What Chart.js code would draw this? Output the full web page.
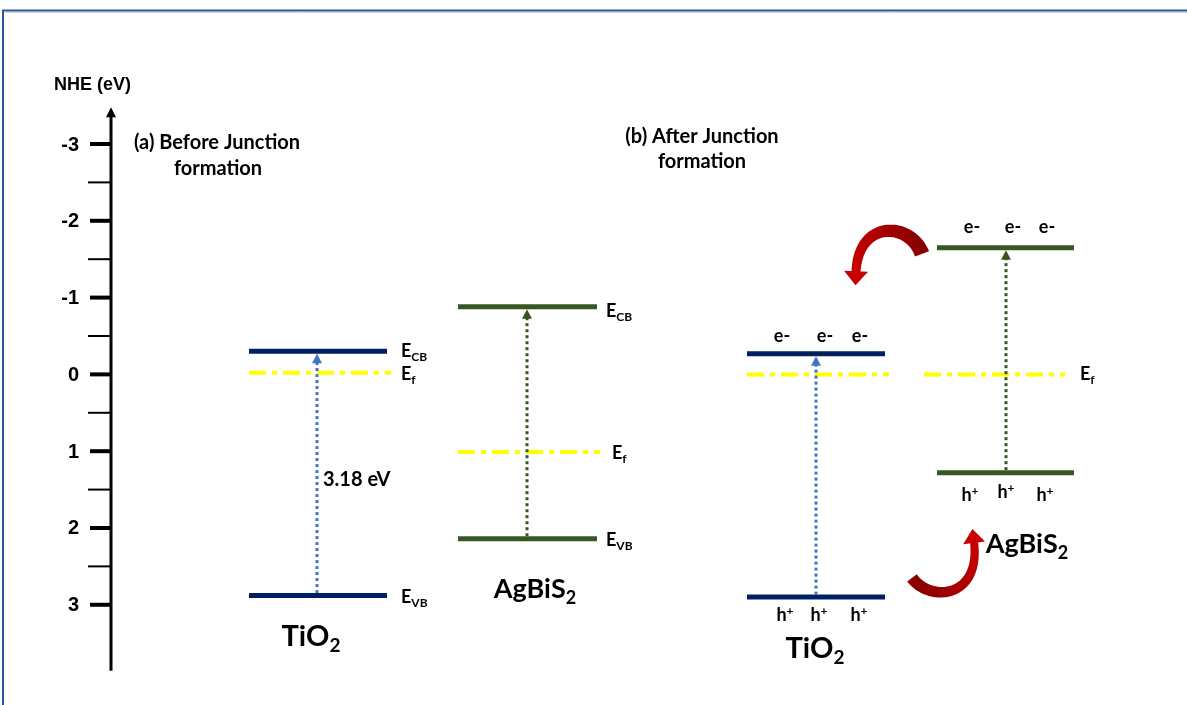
<!DOCTYPE html>
<html>
<head>
<meta charset="utf-8">
<title>TiO2 / AgBiS2 band alignment</title>
<script src="https://cdn.jsdelivr.net/npm/chart.js@4.4.1/dist/chart.umd.min.js"></script>
<style>
  html, body { margin: 0; padding: 0; background: #ffffff; }
  canvas { display: block; }
</style>
</head>
<body>
<canvas id="bands" width="1187" height="705"></canvas>
<script>
// ---- Energy levels, eV vs NHE (index 0 = TiO2, index 1 = AgBiS2) ----
const materials = ['TiO2', 'AgBiS2'];
const cbBefore = [-0.30, -0.88];
const vbBefore = [2.88, 2.14];
const efBefore = [-0.02, 1.01];
const cbAfter  = [-0.27, -1.65];
const vbAfter  = [2.90, 1.28];
const efAfter  = [0.00, 0.00];
const gapLabel = '3.18 eV';

// ---- Axis ----
const axisTitle  = 'NHE (eV)';
const majorTicks = [-3, -2, -1, 0, 1, 2, 3];
const minorTicks = [-2.5, -1.5, -0.5, 0.5, 1.5, 2.5];
const panelTitles = [['(a) Before Junction', 'formation'], ['(b) After Junction', 'formation']];
const carrierE = 'e-';
const carrierH = 'h';

// ---- Layout (horizontal placement of each column, in diagram units) ----
const COLS = [
  [ // (a) before contact
    { band: [249, 387], ef: [249, 391], arrow: 317, tag: 401, efTag: 401, name: 311, nameDy: 50, nameSize: 29 },
    { band: [458, 597], ef: [458, 600], arrow: 527, tag: 606, efTag: 612, name: 535, nameDy: 59, nameSize: 27 }
  ],
  [ // (b) after contact
    { band: [747, 885], ef: [747, 889], arrow: 816, name: 815, nameDy: 61, nameSize: 29,
      eX: [782, 825, 860], eDy: -17, hX: [787, 821, 861], hDy: 18 },
    { band: [937, 1074], ef: [924, 1065], arrow: 1006, efTag: 1080, name: 1027, nameDy: 80, nameSize: 27,
      eX: [972, 1013, 1047], eDy: -20, hX: [972, 1008, 1047], hDy: 22 }
  ]
];
const AXIS = { x: 111, top: -3.48, bottom: 3.86, majorFrom: 90, minorFrom: 88, labelRight: 79 };

// Charge-transfer arrows (control points, diagram x / eV)
const TRANSFER = [
  { pts: [{x: 922, y: -1.57}, {x: 910, y: -1.99}, {x: 858, y: -2.02}, {x: 856, y: -1.33}],
    w0: 15, w1: 9, head: 13, headW: 24, c0: '#8a0000', c1: '#c80000' },
  { pts: [{x: 912, y: 2.65}, {x: 930, y: 2.97}, {x: 981, y: 2.92}, {x: 974, y: 2.18}],
    w0: 12, w1: 8, head: 13, headW: 22, c0: '#8a0000', c1: '#c80000' }
];

const NAVY = '#002060';
const GREEN = '#385723';
const BAND_COLORS = [NAVY, GREEN];
const ARROW_COLORS = ['#4472c4', '#375623'];
const FERMI = '#ffff00';
const TEXT = '#000000';
const FONT = 'Lato';

// ---- Datasets: band edges and Fermi levels ----
function hLine(xs, v, color, width, dash, order) {
  return {
    data: [{x: xs[0], y: v}, {x: xs[1], y: v}],
    showLine: true, pointRadius: 0, pointHoverRadius: 0,
    borderColor: color, borderWidth: width, borderDash: dash,
    borderCapStyle: 'butt', fill: false, order: order
  };
}

const levels = [
  { cb: cbBefore, vb: vbBefore, ef: efBefore },
  { cb: cbAfter,  vb: vbAfter,  ef: efAfter }
];

const datasets = [];
levels.forEach((lv, p) => {
  materials.forEach((m, i) => {
    const c = COLS[p][i];
    datasets.push(hLine(c.band, lv.cb[i], BAND_COLORS[i], 5, [], 1));
    datasets.push(hLine(c.band, lv.vb[i], BAND_COLORS[i], 5, [], 1));
    datasets.push(hLine(c.ef, lv.ef[i], FERMI, 4, [17, 6, 5, 6], 2));
  });
});

// ---- Drawing helpers ----
function rich(ctx, x, y, parts, align) {
  let w = 0;
  parts.forEach(p => { ctx.font = p.font; p.w = ctx.measureText(p.t).width; w += p.w; });
  let cx = align === 'center' ? x - w / 2 : (align === 'right' ? x - w : x);
  ctx.textAlign = 'left';
  ctx.textBaseline = 'alphabetic';
  parts.forEach(p => { ctx.font = p.font; ctx.fillText(p.t, cx, y + (p.dy || 0)); cx += p.w; });
}

function bez(p, t) {
  const u = 1 - t;
  return {
    x: u*u*u*p[0].x + 3*u*u*t*p[1].x + 3*u*t*t*p[2].x + t*t*t*p[3].x,
    y: u*u*u*p[0].y + 3*u*u*t*p[1].y + 3*u*t*t*p[2].y + t*t*t*p[3].y
  };
}
function bezD(p, t) {
  const u = 1 - t;
  return {
    x: 3*u*u*(p[1].x-p[0].x) + 6*u*t*(p[2].x-p[1].x) + 3*t*t*(p[3].x-p[2].x),
    y: 3*u*u*(p[1].y-p[0].y) + 6*u*t*(p[2].y-p[1].y) + 3*t*t*(p[3].y-p[2].y)
  };
}

function curvedArrow(ctx, P, a) {
  const N = 60, L = [], R = [];
  for (let i = 0; i <= N; i++) {
    const t = i / N, q = bez(P, t), d = bezD(P, t);
    const len = Math.hypot(d.x, d.y) || 1;
    const nx = -d.y / len, ny = d.x / len;
    const hw = (a.w0 + (a.w1 - a.w0) * t) / 2;
    L.push({x: q.x + nx * hw, y: q.y + ny * hw});
    R.push({x: q.x - nx * hw, y: q.y - ny * hw});
  }
  const g = ctx.createLinearGradient(P[0].x, P[0].y, P[3].x, P[3].y);
  g.addColorStop(0, a.c0);
  g.addColorStop(1, a.c1);
  ctx.fillStyle = g;
  ctx.beginPath();
  ctx.moveTo(L[0].x, L[0].y);
  L.forEach(q => ctx.lineTo(q.x, q.y));
  for (let i = R.length - 1; i >= 0; i--) ctx.lineTo(R[i].x, R[i].y);
  ctx.closePath();
  ctx.fill();
  // head
  const d = bezD(P, 1), len = Math.hypot(d.x, d.y);
  const ux = d.x / len, uy = d.y / len, nx = -uy, ny = ux;
  const e = P[3];
  ctx.fillStyle = a.c1;
  ctx.beginPath();
  ctx.moveTo(e.x + nx * a.headW / 2 - ux, e.y + ny * a.headW / 2 - uy);
  ctx.lineTo(e.x + ux * a.head, e.y + uy * a.head);
  ctx.lineTo(e.x - nx * a.headW / 2 - ux, e.y - ny * a.headW / 2 - uy);
  ctx.closePath();
  ctx.fill();
}

function dottedArrow(ctx, x, yFrom, yTo, color) {
  // yFrom: valence band (lower), yTo: conduction band (upper); pixel coords
  ctx.save();
  ctx.strokeStyle = color;
  ctx.lineWidth = 3;
  ctx.lineCap = 'butt';
  ctx.setLineDash([3, 3]);
  ctx.beginPath();
  ctx.moveTo(x, yFrom - 2.5);
  ctx.lineTo(x, yTo + 10);
  ctx.stroke();
  ctx.setLineDash([]);
  ctx.fillStyle = color;
  ctx.beginPath();
  ctx.moveTo(x, yTo + 2.5);
  ctx.lineTo(x + 5, yTo + 12);
  ctx.lineTo(x - 5, yTo + 12);
  ctx.closePath();
  ctx.fill();
  ctx.restore();
}

function eLabel(ctx, x, yPix, sub) {
  rich(ctx, x, yPix + 6, [
    { t: 'E', font: `bold 18px ${FONT}` },
    { t: sub, font: `bold 12px ${FONT}`, dy: 4 }
  ], 'left');
}

function formula(ctx, name, x, y, size) {
  const m = name.match(/^(.*?)(\d+)$/);
  rich(ctx, x, y, [
    { t: m[1], font: `bold ${size}px ${FONT}` },
    { t: m[2], font: `bold ${Math.round(size * 0.66)}px ${FONT}`, dy: 6 }
  ], 'center');
}

// ---- Plugin: frame, energy axis, arrows and annotations ----
const bandDiagram = {
  id: 'bandDiagram',
  afterDatasetsDraw(chart) {
    const ctx = chart.ctx;
    const xs = chart.scales.x, ys = chart.scales.y;
    const X = v => xs.getPixelForValue(v);
    const Y = v => ys.getPixelForValue(v);
    ctx.save();

    // frame
    ctx.strokeStyle = '#d0d0d0';
    ctx.lineWidth = 1;
    ctx.beginPath(); ctx.moveTo(5, 12.5); ctx.lineTo(1187, 12.5); ctx.stroke();
    ctx.strokeStyle = '#2f55a0';
    ctx.lineWidth = 2;
    ctx.beginPath();
    ctx.moveTo(3, 705); ctx.lineTo(3, 10.5); ctx.lineTo(1187, 10.5);
    ctx.stroke();

    // energy axis
    const ax = AXIS.x;
    const yTop = Y(AXIS.top), yBot = Y(AXIS.bottom);
    ctx.strokeStyle = '#000';
    ctx.lineWidth = 3;
    ctx.beginPath(); ctx.moveTo(ax, yTop + 6); ctx.lineTo(ax, yBot); ctx.stroke();
    ctx.fillStyle = '#000';
    ctx.beginPath();
    ctx.moveTo(ax, yTop); ctx.lineTo(ax + 5, yTop + 10); ctx.lineTo(ax - 5, yTop + 10);
    ctx.closePath(); ctx.fill();
    ctx.lineWidth = 4;
    majorTicks.forEach(v => {
      ctx.beginPath(); ctx.moveTo(AXIS.majorFrom, Y(v)); ctx.lineTo(ax, Y(v)); ctx.stroke();
    });
    ctx.lineWidth = 2;
    minorTicks.forEach(v => {
      ctx.beginPath(); ctx.moveTo(AXIS.minorFrom, Y(v)); ctx.lineTo(ax, Y(v)); ctx.stroke();
    });
    ctx.fillStyle = TEXT;
    ctx.font = 'bold 20px "Liberation Sans", Arial, sans-serif';
    ctx.textAlign = 'right';
    ctx.textBaseline = 'middle';
    majorTicks.forEach(v => ctx.fillText(String(v), AXIS.labelRight, Y(v) + 1));
    ctx.font = 'bold 18px "Liberation Sans", Arial, sans-serif';
    ctx.textAlign = 'left';
    ctx.fillText(axisTitle, 54, 85);

    // panel titles
    ctx.font = `bold 20px ${FONT}`;
    ctx.textAlign = 'center';
    ctx.fillText(panelTitles[0][0], 217, 143);
    ctx.fillText(panelTitles[0][1], 218, 169);
    ctx.fillText(panelTitles[1][0], 702, 137);
    ctx.fillText(panelTitles[1][1], 702, 162);

    // excitation arrows
    levels.forEach((lv, p) => {
      materials.forEach((m, i) => {
        const c = COLS[p][i];
        dottedArrow(ctx, X(c.arrow), Y(lv.vb[i]), Y(lv.cb[i]), ARROW_COLORS[i]);
      });
    });

    // band labels, panel (a)
    ctx.fillStyle = TEXT;
    materials.forEach((m, i) => {
      const c = COLS[0][i];
      eLabel(ctx, X(c.tag), Y(cbBefore[i]) + (i === 1 ? 4 : 0), 'CB');
      eLabel(ctx, X(c.efTag), Y(efBefore[i]) + 1, 'f');
      eLabel(ctx, X(c.tag), Y(vbBefore[i]) + 1, 'VB');
      formula(ctx, m, X(c.name), Y(vbBefore[i]) + c.nameDy, c.nameSize);
    });
    // gap value
    ctx.font = `bold 20px ${FONT}`;
    ctx.textAlign = 'left';
    ctx.textBaseline = 'middle';
    ctx.fillText(gapLabel, X(COLS[0][0].arrow) + 6, Y((cbBefore[0] + vbBefore[0]) / 2 + 0.08));

    // panel (b) labels and carriers
    const cb1 = COLS[1][1];
    eLabel(ctx, X(cb1.efTag), Y(efAfter[1]), 'f');
    materials.forEach((m, i) => {
      const c = COLS[1][i];
      ctx.font = `bold 18px ${FONT}`;
      ctx.textAlign = 'center';
      ctx.textBaseline = 'middle';
      c.eX.forEach(x => ctx.fillText(carrierE, X(x), Y(cbAfter[i]) + c.eDy));
      c.hX.forEach((x, k) => {
        rich(ctx, X(x) - 2, Y(vbAfter[i]) + c.hDy + 6 - (i === 1 && k === 1 ? 3 : 0), [
          { t: carrierH, font: `bold 18px ${FONT}` },
          { t: '+', font: `bold 12px ${FONT}`, dy: -6 }
        ], 'center');
      });
      formula(ctx, m, X(c.name), Y(vbAfter[i]) + c.nameDy, c.nameSize);
    });

    // charge-transfer arrows
    TRANSFER.forEach(a => {
      const P = a.pts.map(q => ({x: X(q.x), y: Y(q.y)}));
      curvedArrow(ctx, P, a);
    });

    ctx.restore();
  }
};

new Chart(document.getElementById('bands'), {
  type: 'scatter',
  data: { datasets },
  options: {
    responsive: false,
    animation: false,
    events: [],
    layout: { padding: 0 },
    plugins: { legend: { display: false }, tooltip: { enabled: false }, title: { display: false } },
    scales: {
      x: { type: 'linear', min: 0, max: 1187, display: false },
      y: { type: 'linear', min: -4.875, max: 4.305, reverse: true, display: false }
    }
  },
  plugins: [bandDiagram]
});
</script>
</body>
</html>
